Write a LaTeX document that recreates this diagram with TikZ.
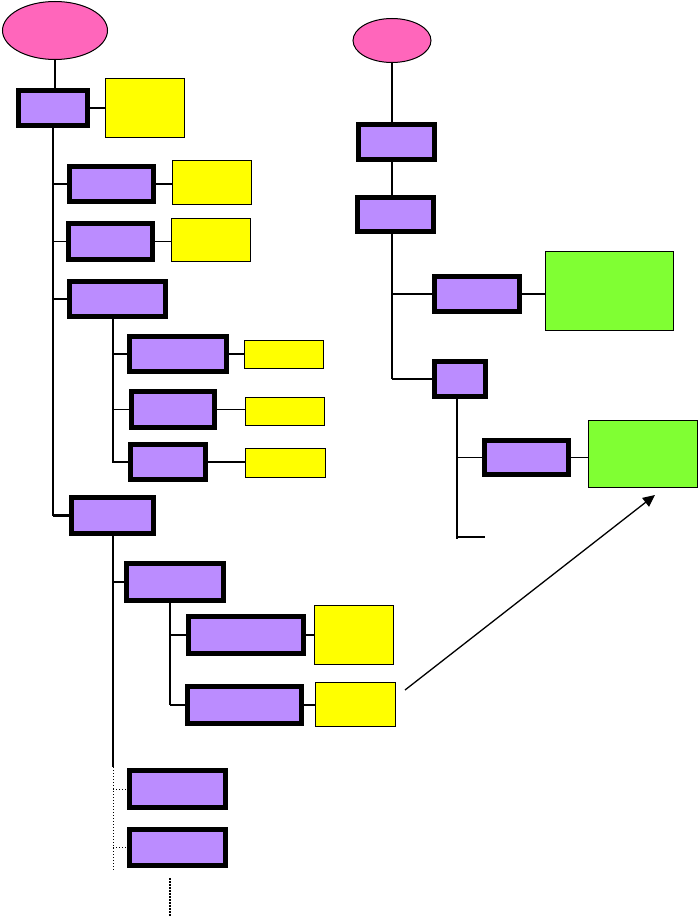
\documentclass[tikz,border=0pt]{standalone}
\usetikzlibrary{shapes.geometric,arrows.meta}

\definecolor{rootpink}{RGB}{255,102,187}
\definecolor{boxlilac}{RGB}{187,140,255}
\definecolor{noteyellow}{RGB}{255,255,0}
\definecolor{notegreen}{RGB}{128,255,51}

\tikzset{
  root/.style={ellipse, draw, line width=1pt, fill=rootpink, inner sep=0pt},
  unit/.style={draw, line width=5pt, fill=boxlilac, inner sep=0pt},
  note/.style={draw, line width=1.3pt, fill=noteyellow, inner sep=0pt},
  gnote/.style={draw, line width=1.7pt, fill=notegreen, inner sep=0pt},
  link/.style={line width=1.3pt},
  heavy/.style={line width=2.5pt},
  dotlink/.style={line width=1pt, dash pattern=on 1pt off 2pt}
}

\begin{document}
\begin{tikzpicture}[x=1pt, y=-1pt]
  \useasboundingbox (0,0) rectangle (698,917);

  % left tree
  \node[root, minimum width=105pt, minimum height=58pt] (le) at (55,30.5) {};
  \node[unit, minimum width=69pt, minimum height=35pt] (b1) at (53,108) {};
  \node[note, minimum width=79pt, minimum height=59pt] (y1) at (145,108) {};
  \node[unit, minimum width=84pt, minimum height=35pt] (b2) at (111.5,184) {};
  \node[note, minimum width=79pt, minimum height=44pt] (y2) at (212,182.5) {};
  \node[unit, minimum width=84pt, minimum height=36pt] (b3) at (110.5,241.5) {};
  \node[note, minimum width=79pt, minimum height=43pt] (y3) at (211,240) {};
  \node[unit, minimum width=96pt, minimum height=35pt] (b4) at (117.5,299) {};
  \node[unit, minimum width=97pt, minimum height=35pt] (b4a) at (178,354) {};
  \node[note, minimum width=79pt, minimum height=28pt] (y4a) at (284,354.5) {};
  \node[unit, minimum width=83pt, minimum height=36pt] (b4b) at (173,409.5) {};
  \node[note, minimum width=79pt, minimum height=28pt] (y4b) at (285,411.5) {};
  \node[unit, minimum width=75pt, minimum height=35pt] (b4c) at (168,462) {};
  \node[note, minimum width=80pt, minimum height=29pt] (y4c) at (285.5,463) {};
  \node[unit, minimum width=82pt, minimum height=36pt] (b5) at (112.5,515.5) {};
  \node[unit, minimum width=97pt, minimum height=37pt] (b5a) at (175,582) {};
  \node[unit, minimum width=115pt, minimum height=37pt] (b5a1) at (246,635) {};
  \node[note, minimum width=79pt, minimum height=59pt] (y5a1) at (354,635) {};
  \node[unit, minimum width=114pt, minimum height=37pt] (b5a2) at (244.5,705) {};
  \node[note, minimum width=80pt, minimum height=44pt] (y5a2) at (355.5,704.5) {};
  \node[unit, minimum width=96pt, minimum height=37pt] (b5b) at (177.5,789) {};
  \node[unit, minimum width=96pt, minimum height=36pt] (b5c) at (177.5,847.5) {};

  % trunk ends
  \coordinate (t1) at (53,515.5);
  \coordinate (t4) at (113,463);
  \coordinate (t5) at (113,767);
  \coordinate (t5end) at (113,871);
  \coordinate (t5a) at (170,705);
  \coordinate (more) at (170,878);
  \coordinate (moreend) at (170,917);

  \draw[link] (le.south) -- (le.south |- b1.north);
  \draw[heavy] (b1.east) -- (b1.east -| y1.west);
  \draw[link] (b1.south) -- (t1);
  \draw[link] (t1 |- b2.west) -- (b2.west);
  \draw[link] (b2.east) -- (b2.east -| y2.west);
  \draw[link] (t1 |- b3.west) -- (b3.west);
  \draw[link] (b3.east) -- (b3.east -| y3.west);
  \draw[heavy] (t1 |- b4.west) -- (b4.west);
  \draw[heavy] (t1 |- b5.west) -- (b5.west);

  \draw[heavy] (t4 |- b4.south) -- (t4);
  \draw[heavy] (t4 |- b4a.west) -- (b4a.west);
  \draw[heavy] (b4a.east) -- (b4a.east -| y4a.west);
  \draw[link] (t4 |- b4b.west) -- (b4b.west);
  \draw[link] (b4b.east) -- (b4b.east -| y4b.west);
  \draw[link] (t4 |- b4c.west) -- (b4c.west);
  \draw[link] (b4c.east) -- (b4c.east -| y4c.west);

  \draw[link] (t5 |- b5.south) -- (t5);
  \draw[link] (t5 |- b5a.west) -- (b5a.west);
  \draw[link] (t5a |- b5a.south) -- (t5a);
  \draw[link] (t5a |- b5a1.west) -- (b5a1.west);
  \draw[link] (b5a1.east) -- (b5a1.east -| y5a1.west);
  \draw[link] (t5a |- b5a2.west) -- (b5a2.west);
  \draw[link] (b5a2.east) -- (b5a2.east -| y5a2.west);
  \draw[dotlink] (t5) -- (t5end);
  \draw[dotlink] (t5 |- b5b.west) -- (b5b.west);
  \draw[dotlink] (t5 |- b5c.west) -- (b5c.west);
  \draw[line width=2.5pt, dash pattern=on 1.5pt off 1.5pt] (more) -- (moreend);

  % right tree
  \node[root, minimum width=78pt, minimum height=44pt] (re) at (392,40.5) {};
  \node[unit, minimum width=76pt, minimum height=35pt] (r1) at (396.5,142) {};
  \node[unit, minimum width=76pt, minimum height=34pt] (r2) at (395.5,214.5) {};
  \node[unit, minimum width=85pt, minimum height=35pt] (r3) at (477,294) {};
  \node[gnote, minimum width=128pt, minimum height=79pt] (g3) at (609.5,291) {};
  \node[unit, minimum width=51pt, minimum height=35pt] (r4) at (460,379) {};
  \node[unit, minimum width=84pt, minimum height=34pt] (r4a) at (526.5,457.5) {};
  \node[gnote, minimum width=109pt, minimum height=67pt] (g4a) at (643,454) {};

  \coordinate (rt) at (392,379);
  \coordinate (rt4) at (457,539);
  \coordinate (stub) at (485,537);

  \draw[link] (re.south) -- (rt |- r1.north);
  \draw[link] (rt |- r1.south) -- (rt |- r2.north);
  \draw[link] (rt |- r2.south) -- (rt);
  \draw[link] (rt |- r3.west) -- (r3.west);
  \draw[link] (r3.east) -- (r3.east -| g3.west);
  \draw[link] (rt |- r4.west) -- (r4.west);
  \draw[link] (rt4 |- r4.south) -- (rt4);
  \draw[link] (rt4 |- r4a.west) -- (r4a.west);
  \draw[link] (r4a.east) -- (r4a.east -| g4a.west);
  \draw[link] (rt4 |- stub) -- (stub);

  % pointer
  \coordinate (ptail) at (405,690);
  \coordinate (phead) at (655,495);
  \draw[link, -{Triangle[length=12pt, width=11pt]}] (ptail) -- (phead);
\end{tikzpicture}
\end{document}
